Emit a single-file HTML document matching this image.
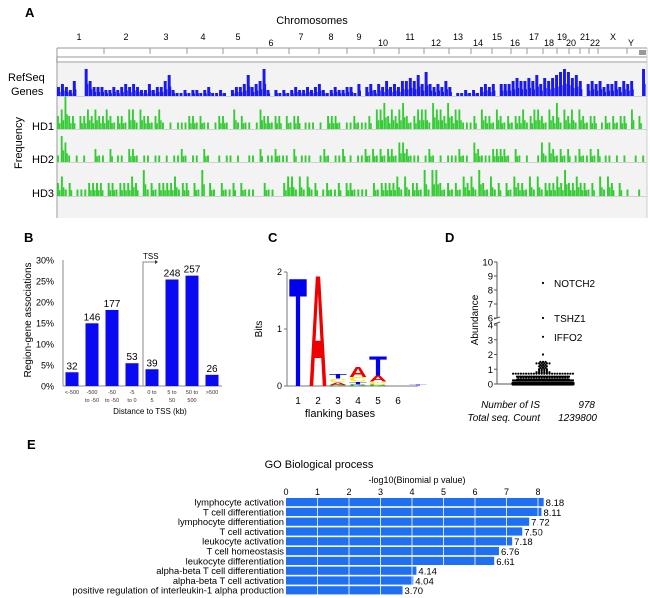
<!DOCTYPE html>
<html><head><meta charset="utf-8"><style>
body{margin:0;background:#fff;}
svg{display:block;font-family:"Liberation Sans",Arial,sans-serif;}
</style></head><body>
<svg id="fig" width="650" height="598" viewBox="0 0 650 598" xmlns="http://www.w3.org/2000/svg">
<g id="pA">
<text x="25" y="17" font-size="13" font-weight="bold">A</text>
<text x="312" y="24" font-size="11" text-anchor="middle">Chromosomes</text>
<rect x="57" y="63" width="590" height="155" fill="#f3f3f3"/>
<line x1="57" y1="48" x2="57" y2="218" stroke="#bbb" stroke-width="1.5"/>
<line x1="57" y1="48" x2="647" y2="48" stroke="#999"/>
<rect x="57" y="57" width="590" height="5" fill="#fff" stroke="#999"/>
<rect x="639" y="50" width="7" height="5" fill="#999"/>
<line x1="647" y1="48" x2="647" y2="218" stroke="#ccc"/>
<g id="ruler"></g><g id="tracks"></g>
<text x="8" y="81" font-size="11">RefSeq</text>
<text x="11" y="95" font-size="11">Genes</text>
<text x="32" y="130" font-size="11">HD1</text>
<text x="32" y="163" font-size="11">HD2</text>
<text x="32" y="197" font-size="11">HD3</text>
<text transform="translate(22,143) rotate(-90)" font-size="11" text-anchor="middle">Frequency</text>
</g>
<g id="pB">
<text x="24" y="242" font-size="13" font-weight="bold">B</text>
<text transform="translate(31,320) rotate(-90)" font-size="10" text-anchor="middle">Region-gene associations</text>
<text x="150" y="414" font-size="8" text-anchor="middle">Distance to TSS (kb)</text>
<g id="bchart"></g>
</g>
<g id="pC">
<text x="268" y="242" font-size="13" font-weight="bold">C</text>
<text transform="translate(262,329) rotate(-90)" font-size="10" text-anchor="middle">Bits</text>
<text x="340" y="417" font-size="11" text-anchor="middle">flanking bases</text>
<g id="logo"></g>
</g>
<g id="pD">
<text x="445" y="242" font-size="13" font-weight="bold">D</text>
<text transform="translate(478,320) rotate(-90)" font-size="10" text-anchor="middle">Abundance</text>
<g id="dchart"></g>
<text x="540" y="408" font-size="10" font-style="italic" text-anchor="end">Number of IS</text>
<text x="595" y="408" font-size="10" font-style="italic" text-anchor="end">978</text>
<text x="540" y="421" font-size="10" font-style="italic" text-anchor="end">Total seq. Count</text>
<text x="597" y="421" font-size="10" font-style="italic" text-anchor="end">1239800</text>
</g>
<g id="pE">
<text x="27" y="449" font-size="13" font-weight="bold">E</text>
<text x="319" y="468" font-size="11" text-anchor="middle">GO Biological process</text>
<text x="417" y="483" font-size="9" text-anchor="middle">-log10(Binomial p value)</text>
<g id="echart"></g>
</g>
</svg>
<script>
// ---------- Panel A data ----------
const chromLabels=["1","2","3","4","5","6","7","8","9","10","11","12","13","14","15","16","17","18","19","20","21","22","X","Y"];
const chromLabelPos=[79,126,166,203,238,271,301,331,359,383,410,436,458,478,497,515,534,549,562,571,585,595,613,631];
const chromLabelRow=[0,0,0,0,0,1,0,0,0,1,0,1,0,1,0,1,0,1,0,1,0,1,0,1];
const chromBounds=[104,150,187,223,257,289,319,347,374,399,424,449,471,492,511,527,543,557,569,580,589,598,627];
const refseqTrack="34325009533322323434322423357211212212311210233473459202121232232342123223314034243534355657484343530112121343404445655657465678986750454534453545009";
const hd1Track="2352202232322321221331322123101011122121101221031211013221220212201110102221011211120334232342123331433242331112032213212122312332132413231321220121212203020";
const hd2Track="1431010100211020110221011011010112101102100101101001102011211102011100121011201011212121221332111012101011121103211122221021010013132121201211212011010100101";
const hd3Track="2312011122220221222320412122223122021402102112021110021100233131312012112022111102122223131221414421212132314213120213221313122232422322120313202010010";
// ---------- Panel B data ----------
const bCats=[["<-500",""],["-500","to -50"],["-50","to -50"],["-5","to 0"],["0 to","5"],["5 to","50"],["50 to","500"],[">500",""]];
const bCounts=[32,146,177,53,39,248,257,26];
const bTicks=[0,5,10,15,20,25,30];
// ---------- Panel C data ----------
const logoPositions=["1","2","3","4","5","6"];
const logoCols=[
 [["T",1.95,"#0000ee"]],
 [["A",2.0,"#ee0000"]],
 [["G",0.02,"#22aa22"],["A",0.05,"#ee0000"],["C",0.06,"#eeee00"],["T",0.08,"#0000ee"]],
 [["G",0.03,"#22aa22"],["T",0.05,"#0000ee"],["C",0.08,"#eeee00"],["A",0.18,"#ee0000"]],
 [["G",0.03,"#22aa22"],["C",0.05,"#eeee00"],["A",0.1,"#ee0000"],["T",0.35,"#0000ee"]],
 [],
 [["T",0.03,"#8888ff"]]
];
const bitsTicks=[0,1,2];
// ---------- Panel D data ----------
const dLevels=[0,0.05,0.25,0.3,0.45,0.5,0.7,0.8,0.9,1.0,1.1,1.2,1.3,1.4,1.5,2.0,3.2,6.0,8.5];
const dCounts=[60,60,40,50,20,30,24,6,4,4,3,4,3,6,3,1,1,1,1];
const dTicksLow=[0,1,2,3,4];
const dTicksHigh=[6,7,8,9,10];
const dNames=[["NOTCH2",8.5],["TSHZ1",6.0],["IFFO2",3.2]];
// ---------- Panel E data ----------
const eTerms=["lymphocyte activation","T cell differentiation","lymphocyte differentiation","T cell activation","leukocyte activation","T cell homeostasis","leukocyte differentiation","alpha-beta T cell differentiation","alpha-beta T cell activation","positive regulation of interleukin-1 alpha production"];
const eValues=[8.18,8.11,7.72,7.50,7.18,6.76,6.61,4.14,4.04,3.70];
const eTicks=[0,1,2,3,4,5,6,7,8];

const NS="http://www.w3.org/2000/svg";
function mk(tag,attrs,parent){const e=document.createElementNS(NS,tag);for(const k in attrs)e.setAttribute(k,attrs[k]);parent.appendChild(e);return e;}

// ---- Panel A ----
(function(){
 const r=document.getElementById('ruler');
 chromBounds.forEach(x=>{const t=mk('line',{x1:x,y1:48,x2:x,y2:54,stroke:'#999'},r);
  
  });
 chromLabels.forEach((c,i)=>{const t=mk('text',{x:chromLabelPos[i],y:chromLabelRow[i]?46:40,'font-size':9,'text-anchor':'middle'},r);t.textContent=c;
  
  });
 const g=document.getElementById('tracks');
 const x0=57,x1=646;
 [96,129,162,196].forEach(y=>{const l=mk('line',{x1:x0,y1:y+0.5,x2:647,y2:y+0.5,stroke:'#d0d0d0'},g);
  
  });
 function track(str,base,unit,color,name,wf){
  const n=str.length,sp=(x1-x0)/n;
  for(let i=0;i<n;i++){const v=parseInt(str[i],10);if(!v)continue;
   const h=v*unit;const b=mk('rect',{x:x0+i*sp,y:base-h,width:sp*wf,height:h,fill:color},g);
   
   
   if(v>1){const b2=mk('rect',{x:x0+i*sp+sp*0.5,y:base-h*0.45,width:sp*0.4,height:h*0.45,fill:color},g);
    
    }
  }}
 track(refseqTrack,96,3,'#1a1aee','refseq',0.75);
 track(hd1Track,129,6.5,'#33cc33','hd1',0.5);
 track(hd2Track,162,6.5,'#33cc33','hd2',0.5);
 track(hd3Track,196,6.5,'#33cc33','hd3',0.5);
})();

// ---- Panel B ----
(function(){
 const g=document.getElementById('bchart');
 const total=bCounts.reduce((a,b)=>a+b,0);
 const y=p=>386-p*(126/30);
 const x=i=>72+i*20;
 mk('line',{x1:63,y1:260,x2:63,y2:386,stroke:'#888'},g);
 mk('line',{x1:63,y1:386,x2:222,y2:386,stroke:'#888'},g);
 bTicks.forEach(t=>{const tx=mk('text',{x:54,y:y(t)+3.5,'font-size':9,'text-anchor':'end'},g);tx.textContent=t+'%';
  
  });
 bCounts.forEach((c,i)=>{const p=c/total*100;
  const r=mk('rect',{x:x(i)-6.5,y:y(p),width:13,height:386-y(p),fill:'#0a0af2'},g);
  
  
  const t=mk('text',{x:x(i),y:y(p)-3,'font-size':10,'text-anchor':'middle'},g);t.textContent=c;
  
  
  bCats[i].forEach((s,k)=>{if(!s)return;const l=mk('text',{x:x(i),y:394+k*8,'font-size':5.5,'text-anchor':'middle',fill:'#333'},g);l.textContent=s;
   
   });
 });
 const tl=mk('path',{d:'M143 386 V262 H156',fill:'none',stroke:'#888'},g);
 
 
 mk('path',{d:'M155 260 L158 262 L155 264 Z',fill:'#333'},g);
 const ts=mk('text',{x:143,y:259,'font-size':8},g);ts.textContent='TSS';
 
 
})();

// ---- Panel C ----
(function(){
 const g=document.getElementById('logo');
 const y=b=>386-b*57;
 const cx=i=>298+i*20;
 mk('line',{x1:287,y1:272,x2:287,y2:386,stroke:'#777'},g);
 mk('line',{x1:287,y1:386,x2:418,y2:386,stroke:'#777'},g);
 bitsTicks.forEach(t=>{mk('line',{x1:284,y1:y(t),x2:287,y2:y(t),stroke:'#777'},g);
  const tx=mk('text',{x:282,y:y(t)+3,'font-size':9,'text-anchor':'end'},g);tx.textContent=t;
  
  });
 logoPositions.forEach((p,i)=>{const t=mk('text',{x:cx(i),y:404,'font-size':10,'text-anchor':'middle'},g);t.textContent=p;
  
  });
 const adv={T:0.611,A:0.722,G:0.778,C:0.722};
 logoCols.forEach((col,i)=>{let base=386;
  col.forEach(([L,b,c])=>{const h=b*57;if(h<0.5)return;
   const w=18,sx=w/(adv[L]*10),sy=h/(0.716*10);
   const t=mk('text',{transform:`translate(${cx(i)-w/2},${base}) scale(${sx},${sy})`,'font-size':10,'font-weight':'bold',fill:c},g);
   t.textContent=L;
   
   
   base-=h;});
 });
})();

// ---- Panel D ----
(function(){
 const g=document.getElementById('dchart');
 const y=v=>v<=4?384-v*14.75:318-(v-6)*14;
 const cx=543;
 mk('line',{x1:497,y1:262,x2:497,y2:318,stroke:'#555'},g);
 mk('line',{x1:497,y1:323,x2:497,y2:384,stroke:'#555'},g);
 mk('line',{x1:494,y1:319,x2:500,y2:317,stroke:'#555'},g);
 mk('line',{x1:494,y1:324,x2:500,y2:322,stroke:'#555'},g);
 mk('line',{x1:497,y1:384,x2:573,y2:384,stroke:'#555'},g);
 dTicksLow.concat(dTicksHigh).forEach(t=>{mk('line',{x1:494,y1:y(t),x2:497,y2:y(t),stroke:'#555'},g);
  const tx=mk('text',{x:493,y:y(t)+3.5,'font-size':9.5,'text-anchor':'end'},g);tx.textContent=t;
  
  });
 dLevels.forEach((v,i)=>{const n=dCounts[i];
  const maxW=v<0.3?60:(v<0.6?52:(v<0.75?62:22));
  const w=Math.min((n-1)*2.6,maxW);
  for(let k=0;k<n;k++){const x=n===1?cx:cx-w/2+w*k/(n-1);
   const d=mk('circle',{cx:x,cy:y(v),r:v<0.1?1.6:1.1,fill:'#000'},g);
   
   }
 });
 dNames.forEach(([nm,v])=>{const t=mk('text',{x:554,y:y(v)+4,'font-size':10},g);t.textContent=nm;
  
  });
})();

// ---- Panel E ----
(function(){
 const g=document.getElementById('echart');
 const x=v=>286+v*31.5;
 const rowY=i=>498+i*9.8;
 eTicks.forEach(t=>{const tx=mk('text',{x:x(t),y:495,'font-size':9,'text-anchor':'middle'},g);tx.textContent=t;
  
  });
 eTerms.forEach((term,i)=>{const v=eValues[i];
  const r=mk('rect',{x:x(0),y:rowY(i),width:x(v)-x(0),height:8.2,fill:'#1f6ff2'},g);
  
  
  const l=mk('text',{x:284,y:rowY(i)+7.5,'font-size':9.4,'text-anchor':'end'},g);l.textContent=term;
  
  
  const vt=mk('text',{x:x(v)+2,y:rowY(i)+8,'font-size':9.5},g);vt.textContent=v.toFixed(2);
  
  
 });
 eTicks.forEach(t=>{if(t===0)return;mk('line',{x1:x(t),y1:498,x2:x(t),y2:rowY(eTerms.length),stroke:'#fff','stroke-width':1,opacity:0.8},g);});
})();
</script>
</body></html>
